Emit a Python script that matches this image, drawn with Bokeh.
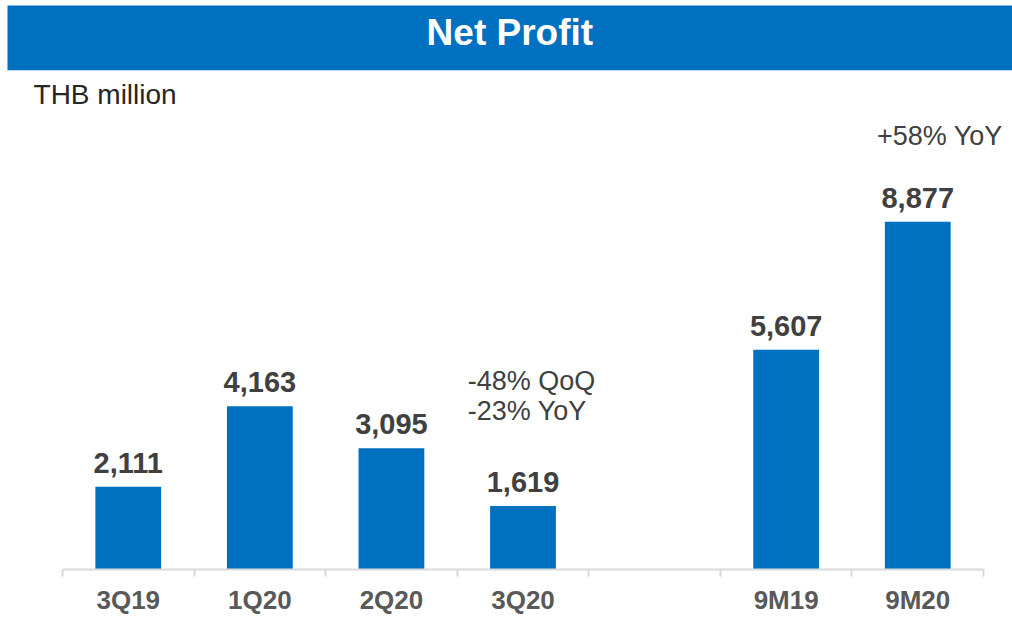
from bokeh.plotting import figure
from bokeh.models import (FixedTicker, BoxAnnotation, Label, ColumnDataSource,
                          Range1d, LinearAxis)
from bokeh.core.properties import value
from bokeh.embed import file_html
from bokeh.resources import INLINE

# ---- data ----
categories = ["3Q19", "1Q20", "2Q20", "3Q20", "9M19", "9M20"]
slots = [0, 1, 2, 3, 5, 6]          # slot 4 is an empty gap
profit = [2111, 4163, 3095, 1619, 5607, 8877]
title_text = "Net Profit"
unit_text = "THB million"
qoq_text = "-48% QoQ"
yoy_q_text = "-23% YoY"
yoy_9m_text = "+58% YoY"

FONT = "Liberation Sans"
BLUE = "#0070C0"

x = [s + 0.5 for s in slots]
labels = [f"{v:,}" for v in profit]
src = ColumnDataSource(dict(x=x, profit=profit, label=labels))

n_slots = max(slots) + 1
x_start, x_end = -0.471, n_slots + 0.22
y_end = 14520

p = figure(width=1012, height=617, x_range=Range1d(x_start, x_end),
           y_range=Range1d(0, y_end), output_backend="svg",
           toolbar_location=None, x_axis_location=None, y_axis_location=None,
           min_border_left=0, min_border_right=0, min_border_top=0,
           min_border_bottom=0)
p.outline_line_color = None
p.xgrid.visible = False
p.ygrid.visible = False
p.background_fill_color = "white"
p.border_fill_color = "white"

# title bar
p.add_layout(BoxAnnotation(left=-0.418, bottom=12742, top=14395,
                           fill_color=BLUE, fill_alpha=1.0,
                           line_color=None, level="underlay"))
p.add_layout(Label(x=3.4, y=13700, text=title_text,
                   text_align="center", text_baseline="middle",
                   text_font=FONT, text_font_style="bold",
                   text_font_size="37px", text_color="white"))
p.add_layout(Label(x=-0.22, y=12110, text=unit_text, text_align="left",
                   text_baseline="alphabetic", text_font=FONT,
                   text_font_size="28px", text_color="#262626"))

# x axis with boundary ticks
ax = LinearAxis(ticker=FixedTicker(ticks=x, minor_ticks=list(range(n_slots + 1))),
                bounds=(0, n_slots))
ax.major_label_overrides = {xi: c for xi, c in zip(x, categories)}
ax.major_tick_line_color = None
ax.minor_tick_line_color = "#D9D9D9"
ax.minor_tick_line_width = 2
ax.minor_tick_in = 0
ax.minor_tick_out = 7
ax.axis_line_color = "#D9D9D9"
ax.axis_line_width = 2
ax.major_label_standoff = 8
ax.major_label_text_font = FONT
ax.major_label_text_font_style = "bold"
ax.major_label_text_font_size = "26px"
ax.major_label_text_color = "#595959"
p.add_layout(ax, "below")

# bars
p.vbar(x="x", top="profit", width=0.5, source=src, fill_color=BLUE,
       line_color=None)
p.text(x="x", y="profit", text="label", source=src, text_align="center",
       text_baseline="alphabetic", y_offset=-24, text_font=value(FONT),
       text_font_style="bold", text_font_size="29px", text_color="#404040")

# annotations
for txt, yy in [(qoq_text, 4810), (yoy_q_text, 4050)]:
    p.add_layout(Label(x=3.08, y=yy, text=txt, text_align="left",
                       text_baseline="alphabetic", text_font=FONT,
                       text_font_size="27px", text_color="#404040"))
p.add_layout(Label(x=6.19, y=11060, text=yoy_9m_text, text_align="left",
                   text_baseline="alphabetic", text_font=FONT,
                   text_font_size="27px", text_color="#404040"))

open("out.html", "w").write(file_html(p, INLINE))
